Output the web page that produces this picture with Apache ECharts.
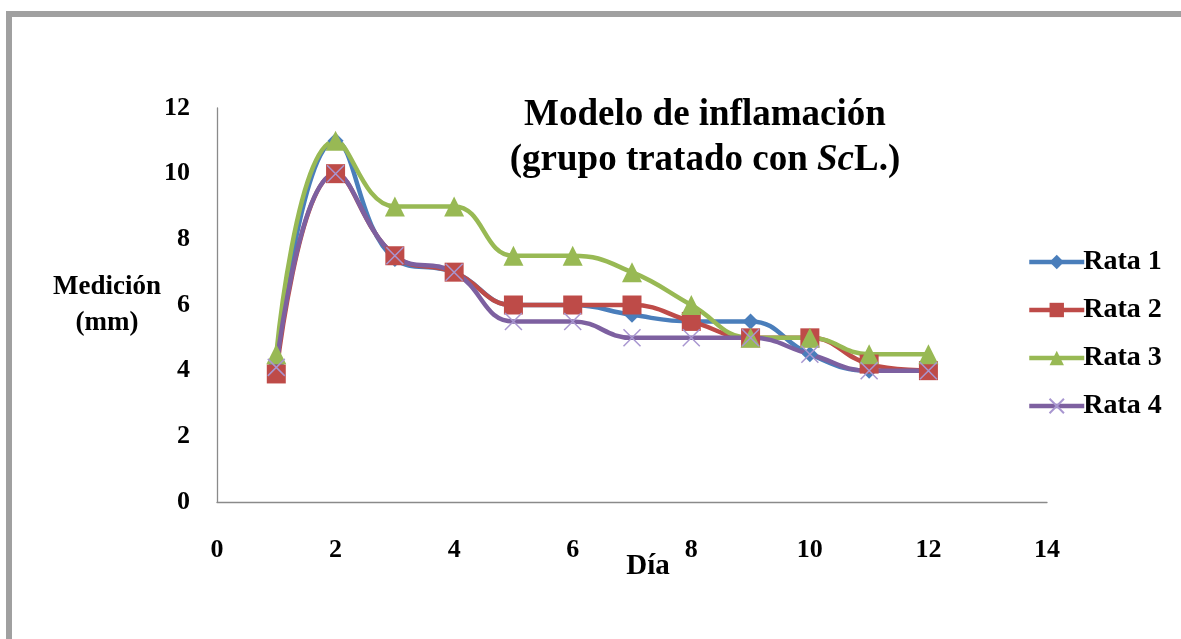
<!DOCTYPE html>
<html>
<head>
<meta charset="utf-8">
<script src="https://cdn.jsdelivr.net/npm/echarts@6/dist/echarts.min.js"></script>
<style>
html,body{margin:0;padding:0;background:#fff;}
#wrap{position:relative;width:1181px;height:639px;overflow:hidden;}
#chart{position:absolute;left:0;top:0;width:1181px;height:639px;}
#frame{position:absolute;left:6px;top:11px;width:1200px;height:700px;border-top:6px solid #a0a0a0;border-left:6px solid #a0a0a0;box-sizing:border-box;pointer-events:none;}
</style>
</head>
<body>
<div id="wrap">
<div id="chart"></div>
<div id="frame"></div>
</div>
<script>
const days = [1,2,3,4,5,6,7,8,9,10,11,12];
const rata1 = [4.2, 11, 7.4, 7, 6, 6, 5.7, 5.5, 5.5, 4.5, 4, 4];
const rata2 = [3.9, 10, 7.5, 7, 6, 6, 6, 5.5, 5, 5, 4.2, 4];
const rata3 = [4.5, 11, 9, 9, 7.5, 7.5, 7, 6, 5, 5, 4.5, 4.5];
const rata4 = [4.1, 10, 7.5, 7, 5.5, 5.5, 5, 5, 5, 4.5, 4, 4];
const seriesNames = ['Rata 1','Rata 2','Rata 3','Rata 4'];
const xTicks = {min:0, max:14, interval:2};
const yTicks = {min:0, max:12, interval:2};

const font = '"Liberation Serif","Times New Roman",serif';
const colors = ['#4A7EBB','#BE4B48','#98B954','#7D60A0'];
const pair = arr => days.map((d,i)=>[d, arr[i]]);

function mk(name, data, color, symbol, size, extra){
  return Object.assign({
    name, type:'line', data: pair(data), smooth:0.45,
    symbol, symbolSize:size,
    lineStyle:{color, width:4.5},
    itemStyle:{color},
    emphasis:{disabled:true},
    z:2
  }, extra||{});
}

const chart = echarts.init(document.getElementById('chart'), null, {renderer:'canvas'});
chart.setOption({
  animation:false,
  backgroundColor:'#fff',
  title:{
    text:'{n|Modelo de inflamación}\n{n|(grupo tratado con }{i|Sc}{n|L.)}',
    left:700, top:88, textAlign:'center',
    textStyle:{
      rich:{
        n:{fontFamily:font, fontWeight:'bold', fontSize:37, color:'#000', lineHeight:45},
        i:{fontFamily:font, fontWeight:'bold', fontStyle:'italic', fontSize:37, color:'#000', lineHeight:45}
      }
    }
  },
  legend:{
    orient:'vertical', left:1022, top:243, itemGap:20,
    itemWidth:55, itemHeight:18,
    data: seriesNames,
    lineStyle:{width:4.5},
    textStyle:{fontFamily:font, fontWeight:'bold', fontSize:28, color:'#000', padding:[0,0,0,-6]}
  },
  grid:{left:217, right:134, top:108, bottom:137, containLabel:false},
  xAxis:{
    type:'value', min:xTicks.min, max:xTicks.max, interval:xTicks.interval,
    name:'Día', nameLocation:'middle', nameGap:50, nameMoveOverlap:false,
    nameTextStyle:{fontFamily:font, fontWeight:'bold', fontSize:29, color:'#000', padding:[0,0,0,32]},
    axisLine:{show:true, onZero:false, lineStyle:{color:'#8a8a8a', width:1.3}},
    axisTick:{show:false},
    splitLine:{show:false},
    axisLabel:{fontFamily:font, fontWeight:'bold', fontSize:26, color:'#000', margin:35},
    z:1
  },
  yAxis:{
    type:'value', min:yTicks.min, max:yTicks.max, interval:yTicks.interval,
    name:'Medición\n(mm)', nameLocation:'middle', nameRotate:0, nameGap:110, nameMoveOverlap:false,
    nameTextStyle:{fontFamily:font, fontWeight:'bold', fontSize:27, color:'#000', lineHeight:36, align:'center', padding:[0,0,26,0]},
    axisLine:{show:true, lineStyle:{color:'#8a8a8a', width:1.3}},
    axisTick:{show:false},
    splitLine:{show:false},
    axisLabel:{fontFamily:font, fontWeight:'bold', fontSize:26, color:'#000', margin:27}
  },
  series:[
    mk('Rata 1', rata1, colors[0], 'diamond', 16),
    mk('Rata 2', rata2, colors[1], 'rect', 19),
    mk('Rata 3', rata3, colors[2], 'triangle', 20),
    mk('Rata 4', rata4, colors[3], 'path://M0,0L10,10M10,0L0,10', 17, {
      itemStyle:{color:'rgba(0,0,0,0)', borderColor:'#A896D0', borderWidth:1.5}
    })
  ]
});
</script>
</body>
</html>
